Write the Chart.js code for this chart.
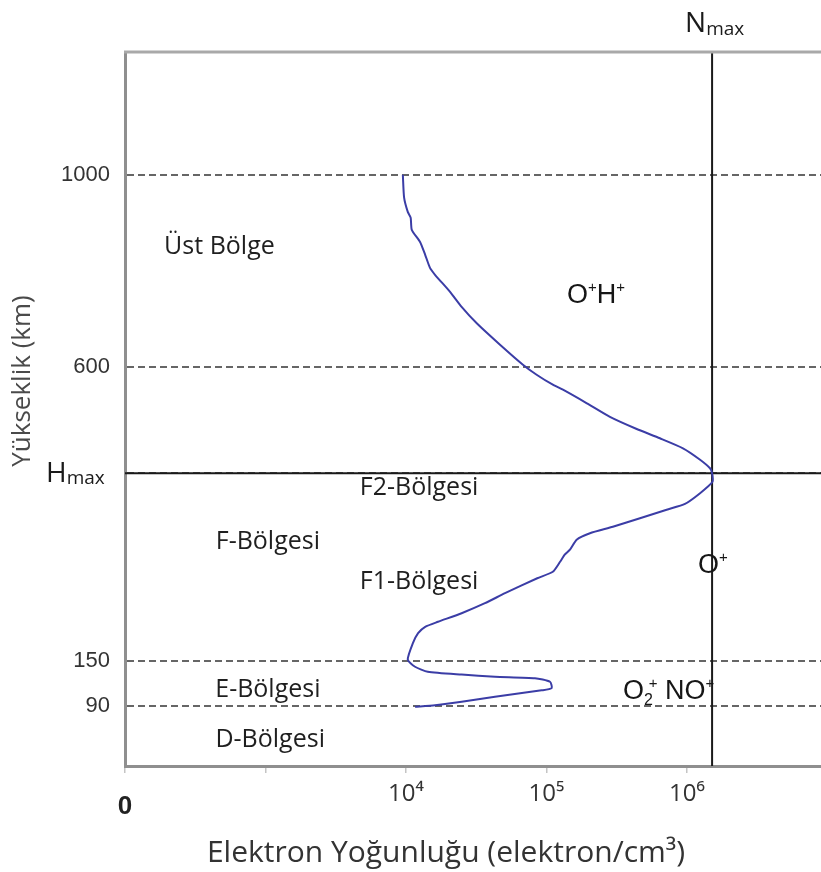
<!DOCTYPE html>
<html lang="tr">
<head>
<meta charset="utf-8">
<title>İyonosfer elektron yoğunluğu</title>
<script src="https://cdn.jsdelivr.net/npm/chart.js@4.4.1/dist/chart.umd.min.js"></script>
<style>
  html, body { margin: 0; padding: 0; background: #fff; }
  #kutu { width: 821px; height: 872px; position: relative; }
</style>
</head>
<body>
<div id="kutu"><canvas id="grafik"></canvas></div>
<script>
/*
  İyonosferin elektron yoğunluğu profili.
  Yükseklik ekseni şematik: değerler 0-100 arası "düzey" olarak tutuluyor,
  km etiketleri tik düzeylerine yazılıyor.
*/

// Eğri: elektron yoğunluğu (elektron/cm³) ve ona karşılık gelen düzey
const yogunluk = [
  9.5e3, 9.7e3, 1.03e4, 1.08e4, 1.10e4, 1.26e4, 1.37e4, 1.48e4, 1.61e4, 2.06e4,
  2.49e4, 3.19e4, 4.67e4, 6.80e4, 8.51e4, 1.11e5, 1.31e5, 1.94e5, 2.83e5, 4.39e5,
  6.42e5, 9.37e5, 1.24e6, 1.46e6, 1.51e6, 1.52e6, 1.24e6, 9.68e5, 7.17e5, 4.63e5,
  2.97e5, 2.04e5, 1.64e5, 1.47e5, 1.35e5, 1.25e5, 1.11e5, 8.6e4, 5.07e4, 3.65e4,
  2.49e4, 1.69e4, 1.37e4, 1.22e4, 1.12e4, 1.03e4, 1.16e4, 1.43e4, 2.49e4, 4.30e4,
  8.28e4, 1.06e5, 1.09e5, 9.24e4, 4.30e4, 2.49e4, 1.61e4, 1.16e4
];
const duzey = [
  82.8, 79.6, 77.6, 76.8, 75.1, 73.4, 71.6, 69.8, 68.8, 66.4,
  64.3, 62.0, 59.0, 56.2, 54.8, 53.4, 52.7, 50.8, 48.9, 47.2,
  45.9, 44.5, 42.9, 41.7, 41.0, 39.8, 38.2, 36.7, 35.9, 34.7,
  33.5, 32.6, 31.7, 30.3, 29.6, 28.6, 27.2, 26.3, 24.2, 22.8,
  21.4, 20.2, 19.5, 18.6, 17.2, 14.9, 13.9, 13.2, 12.8, 12.5,
  12.3, 11.8, 10.9, 10.6, 9.7, 9.0, 8.5, 8.3
];

// Eksen işaretleri
const yTikDuzey = [8.4, 14.7, 41.0, 55.9, 82.8];
const yTikEtiket = ['90', '150', 'Hmax', '600', '1000'];
const xTikDeger = [1e2, 1e3, 1e4, 1e5, 1e6];
const xTikEtiket = ['0', '', '10⁴', '10⁵', '10⁶'];

// Tepe noktası
const nMax = 1.51e6;
const hMaxDuzey = 41.0;

const X_MIN = 1e2, X_MAX = 9e6, Y_MIN = 0, Y_MAX = 100;

// Bölge adları (veri koordinatlarında merkez)
const bolgeYazilari = [
  { metin: 'Üst Bölge', x: 4.7e2, y: 72.7 },
  { metin: 'F2-Bölgesi', x: 1.24e4, y: 38.9 },
  { metin: 'F-Bölgesi', x: 1.04e3, y: 31.4 },
  { metin: 'F1-Bölgesi', x: 1.24e4, y: 25.8 },
  { metin: 'E-Bölgesi', x: 1.04e3, y: 10.6 },
  { metin: 'D-Bölgesi', x: 1.08e3, y: 3.6 }
];

/**
 * Alt/üst simgeli yazı çizer. Her parça: [metin, tür] ; tür 'n' | 'ust' | 'alt'
 */
function simgeliYaz(ctx, x, taban, parcalar, aile, boyut) {
  let onceki = 0;
  parcalar.forEach(([metin, tur]) => {
    let b = boyut, dy = 0;
    if (tur === 'ust') { b = Math.round(boyut * 0.56); dy = -boyut * 0.42; }
    if (tur === 'alt') { b = Math.round(boyut * 0.6); dy = boyut * 0.22; }
    ctx.font = `${b}px ${aile}`;
    // alt simgeden hemen sonra gelen üst simge aynı hizaya biner
    if (tur === 'ust' && onceki) x -= onceki * 0.45;
    ctx.fillText(metin, x, taban + dy);
    const w = ctx.measureText(metin).width;
    onceki = tur === 'alt' ? w : 0;
    x += w;
  });
}

const yaziEklentisi = {
  id: 'yazilar',
  afterDraw(chart) {
    const { ctx, chartArea, scales: { x, y } } = chart;
    ctx.save();

    // üst çerçeve
    ctx.strokeStyle = '#a9a9a9';
    ctx.lineWidth = 3;
    ctx.beginPath();
    ctx.moveTo(chartArea.left - 1, chartArea.top);
    ctx.lineTo(chartArea.right, chartArea.top);
    ctx.stroke();

    // bölge adları
    ctx.fillStyle = '#1f1f1f';
    ctx.font = '25px "Open Sans"';
    ctx.textAlign = 'center';
    ctx.textBaseline = 'middle';
    bolgeYazilari.forEach(b => {
      ctx.fillText(b.metin, x.getPixelForValue(b.x), y.getPixelForValue(b.y));
    });

    // iyon adları
    ctx.textAlign = 'left';
    ctx.textBaseline = 'alphabetic';
    ctx.fillStyle = '#161616';
    const ar = '"Liberation Sans", Arial, sans-serif';
    simgeliYaz(ctx, x.getPixelForValue(1.40e5), y.getPixelForValue(66.2) + 10,
      [['O', 'n'], ['+', 'ust'], ['H', 'n'], ['+', 'ust']], ar, 27);
    simgeliYaz(ctx, x.getPixelForValue(1.20e6), y.getPixelForValue(28.4) + 10,
      [['O', 'n'], ['+', 'ust']], ar, 27);
    simgeliYaz(ctx, x.getPixelForValue(3.50e5), y.getPixelForValue(10.8) + 10,
      [['O', 'n'], ['2', 'alt'], ['+', 'ust'], [' NO', 'n'], ['+', 'ust']], ar, 27);

    // Nmax ve Hmax
    const os = '"Open Sans", sans-serif';
    ctx.fillStyle = '#1a1a1a';
    const nx = x.getPixelForValue(nMax) - 27;
    ctx.font = `28px ${os}`;
    ctx.fillText('N', nx, chartArea.top - 20);
    const nw = ctx.measureText('N').width;
    ctx.font = `19px ${os}`;
    ctx.fillText('max', nx + nw, chartArea.top - 17);

    const hy = y.getPixelForValue(hMaxDuzey);
    ctx.font = `28px ${os}`;
    ctx.fillText('H', 46, hy + 9);
    const hw = ctx.measureText('H').width;
    ctx.font = `19px ${os}`;
    ctx.fillText('max', 46 + hw, hy + 11);

    // eksen başlıkları
    ctx.fillStyle = '#333';
    ctx.textAlign = 'center';
    ctx.textBaseline = 'middle';
    ctx.font = `30px ${os}`;
    ctx.fillText('Elektron Yoğunluğu (elektron/cm³)', 446, 853);

    ctx.save();
    ctx.translate(23, 381);
    ctx.rotate(-Math.PI / 2);
    ctx.fillStyle = '#4a4a4a';
    ctx.font = `26px ${os}`;
    ctx.fillText('Yükseklik (km)', 0, 0);
    ctx.restore();

    ctx.restore();
  }
};

const ctx = document.getElementById('grafik').getContext('2d');

new Chart(ctx, {
  type: 'scatter',
  data: {
    datasets: [
      {
        label: 'Elektron yoğunluğu',
        data: yogunluk.map((v, i) => ({ x: v, y: duzey[i] })),
        showLine: true,
        borderColor: '#3b3da6',
        borderWidth: 2,
        pointRadius: 0,
        tension: 0.2
      },
      {
        label: 'Nmax',
        data: [{ x: nMax, y: Y_MIN }, { x: nMax, y: Y_MAX }],
        showLine: true,
        borderColor: '#1a1a1a',
        borderWidth: 2,
        pointRadius: 0
      },
      {
        label: 'Hmax',
        data: [{ x: X_MIN, y: hMaxDuzey }, { x: X_MAX, y: hMaxDuzey }],
        showLine: true,
        borderColor: '#1a1a1a',
        borderWidth: 2,
        pointRadius: 0
      }
    ]
  },
  options: {
    responsive: true,
    maintainAspectRatio: false,
    animation: false,
    events: [],
    layout: { padding: { top: 52, right: 0, bottom: 0, left: 0 } },
    plugins: {
      legend: { display: false },
      tooltip: { enabled: false }
    },
    scales: {
      x: {
        type: 'logarithmic',
        min: X_MIN,
        max: X_MAX,
        afterFit: s => { s.height = 106; },
        afterBuildTicks: s => { s.ticks = xTikDeger.map(v => ({ value: v })); },
        grid: { drawOnChartArea: false, drawTicks: true, tickLength: 7, color: '#c4c4c4', lineWidth: 1.5 },
        border: { color: '#8f8f8f', width: 3 },
        ticks: {
          autoSkip: false,
          maxRotation: 0,
          padding: 7,
          color: c => (c.index === 0 ? '#222' : '#333'),
          font: c => (c.index === 0
            ? { family: '"Liberation Sans", Arial, sans-serif', size: 26, weight: 'bold', lineHeight: 2.08 }
            : { family: '"Open Sans", sans-serif', size: 24 }),
          callback: (v, i) => xTikEtiket[i]
        }
      },
      y: {
        type: 'linear',
        min: Y_MIN,
        max: Y_MAX,
        afterFit: s => { s.width = 125; },
        afterBuildTicks: s => { s.ticks = yTikDuzey.map(v => ({ value: v })); },
        grid: { drawTicks: false, color: '#666', lineWidth: 2 },
        border: { color: '#8f8f8f', width: 3, dash: [7, 4] },
        ticks: {
          padding: 15,
          color: '#333',
          font: { family: '"Liberation Sans", Arial, sans-serif', size: 22 },
          callback: (v, i) => (yTikEtiket[i] === 'Hmax' ? '' : yTikEtiket[i])
        }
      }
    }
  },
  plugins: [yaziEklentisi]
});
</script>
</body>
</html>
